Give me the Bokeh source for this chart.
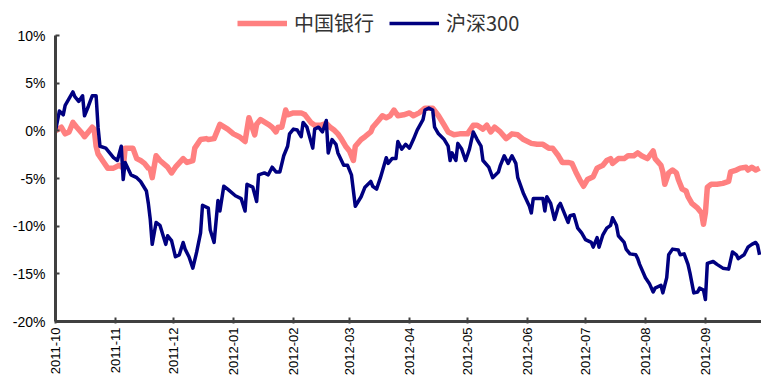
import numpy as np
import pandas as pd
from bokeh.plotting import figure
from bokeh.models import (Range1d, FixedTicker, PrintfTickFormatter, Legend, LegendItem,
                          ColumnDataSource)
from bokeh.embed import file_html
from bokeh.resources import INLINE

# ---------------- data ----------------
boc_dates = [
    "2011-10-01", "2011-10-04", "2011-10-06", "2011-10-08", "2011-10-10", "2011-10-12", "2011-10-15",
    "2011-10-16", "2011-10-18", "2011-10-20", "2011-10-21", "2011-10-22", "2011-10-23", "2011-10-26",
    "2011-10-28", "2011-10-31", "2011-11-03", "2011-11-05", "2011-11-06", "2011-11-09", "2011-11-10",
    "2011-11-12", "2011-11-14", "2011-11-16", "2011-11-18", "2011-11-19", "2011-11-20", "2011-11-22",
    "2011-11-24", "2011-11-28", "2011-11-30", "2011-12-02", "2011-12-06", "2011-12-08", "2011-12-11",
    "2011-12-12", "2011-12-15", "2011-12-18", "2011-12-19", "2011-12-22", "2011-12-24", "2011-12-25",
    "2011-12-29", "2012-01-01", "2012-01-04", "2012-01-07", "2012-01-09", "2012-01-11", "2012-01-12",
    "2012-01-13", "2012-01-15", "2012-01-19", "2012-01-21", "2012-01-23", "2012-01-24", "2012-01-26",
    "2012-01-28", "2012-01-29", "2012-02-01", "2012-02-05", "2012-02-07", "2012-02-10", "2012-02-12",
    "2012-02-15", "2012-02-18", "2012-02-20", "2012-02-22", "2012-02-24", "2012-02-26", "2012-02-28",
    "2012-03-01", "2012-03-03", "2012-03-04", "2012-03-07", "2012-03-09", "2012-03-12", "2012-03-13",
    "2012-03-16", "2012-03-18", "2012-03-20", "2012-03-22", "2012-03-24", "2012-03-26", "2012-03-29",
    "2012-04-01", "2012-04-03", "2012-04-06", "2012-04-09", "2012-04-13", "2012-04-16", "2012-04-19",
    "2012-04-21", "2012-04-24", "2012-04-27", "2012-05-01", "2012-05-04", "2012-05-06", "2012-05-09",
    "2012-05-11", "2012-05-13", "2012-05-15", "2012-05-18", "2012-05-21", "2012-05-24", "2012-05-27",
    "2012-05-30", "2012-06-03", "2012-06-06", "2012-06-09", "2012-06-12", "2012-06-14", "2012-06-17",
    "2012-06-19", "2012-06-22", "2012-06-24", "2012-06-26", "2012-06-28", "2012-06-30", "2012-07-02",
    "2012-07-05", "2012-07-07", "2012-07-10", "2012-07-12", "2012-07-14", "2012-07-15", "2012-07-18",
    "2012-07-21", "2012-07-23", "2012-07-26", "2012-07-28", "2012-07-30", "2012-08-02", "2012-08-05",
    "2012-08-06", "2012-08-09", "2012-08-10", "2012-08-11", "2012-08-13", "2012-08-15", "2012-08-17",
    "2012-08-18", "2012-08-20", "2012-08-22", "2012-08-23", "2012-08-25", "2012-08-28", "2012-08-30",
    "2012-08-31", "2012-09-01", "2012-09-02", "2012-09-04", "2012-09-07", "2012-09-10", "2012-09-13",
    "2012-09-14", "2012-09-17", "2012-09-19", "2012-09-22", "2012-09-23", "2012-09-25", "2012-09-27",
    "2012-09-29",
]
boc_values = [
    0.0, 0.4, -0.3, -0.1, 0.9, 0.4, -0.3,
    -0.6, -0.1, 0.4, 0.2, -1.6, -2.4, -3.3,
    -3.9, -3.9, -3.6, -3.9, -1.8, -1.8, -1.8,
    -2.9, -3.1, -3.4, -3.9, -4.0, -4.9, -2.6,
    -3.1, -3.8, -4.4, -3.8, -2.9, -3.3, -3.1,
    -1.8, -0.9, -0.8, -0.9, -0.8, 0.2, 0.7,
    0.2, -0.3, -0.6, -1.1, 1.4, 0.2, -0.4,
    0.7, 1.2, 0.7, 0.4, -0.1, 0.4, 0.4,
    2.2, 1.7, 1.9, 1.9, 1.7, 0.9, 0.6,
    0.6, 0.8, 0.4, 0.1, -0.3, -0.9, -1.6,
    -2.1, -3.1, -1.6, -0.9, -0.6, -0.1, 0.4,
    1.1, 1.6, 1.4, 1.6, 2.2, 1.6, 1.7,
    1.9, 1.6, 1.9, 2.4, 2.4, 1.6, 0.6,
    -0.1, -0.4, -0.3, -0.3, 0.6, 0.6, 0.2,
    0.6, -0.1, 0.4, -0.1, -0.8, -0.3, -0.4,
    -0.9, -1.3, -1.4, -1.4, -1.8, -1.8, -2.6,
    -3.3, -3.3, -3.4, -4.3, -5.1, -5.8, -5.1,
    -4.8, -3.9, -3.6, -3.1, -2.9, -3.4, -2.9,
    -2.9, -2.6, -2.6, -2.3, -2.6, -2.9, -2.1,
    -2.9, -3.6, -4.3, -5.6, -4.4, -4.1, -4.4,
    -5.1, -6.1, -6.3, -6.9, -7.6, -8.1, -8.6,
    -9.8, -8.6, -5.9, -5.6, -5.6, -5.5, -5.3,
    -4.3, -4.1, -3.9, -3.8, -4.1, -3.8, -4.1,
    -3.9,
]

hs300_dates = [
    "2011-10-01", "2011-10-03", "2011-10-05", "2011-10-06", "2011-10-10", "2011-10-11", "2011-10-13",
    "2011-10-15", "2011-10-16", "2011-10-18", "2011-10-20", "2011-10-22", "2011-10-23", "2011-10-24",
    "2011-10-27", "2011-10-29", "2011-10-31", "2011-11-02", "2011-11-04", "2011-11-05", "2011-11-06",
    "2011-11-09", "2011-11-12", "2011-11-14", "2011-11-17", "2011-11-18", "2011-11-19", "2011-11-20",
    "2011-11-22", "2011-11-24", "2011-11-27", "2011-11-28", "2011-11-30", "2011-12-02", "2011-12-04",
    "2011-12-06", "2011-12-07", "2011-12-09", "2011-12-11", "2011-12-13", "2011-12-15", "2011-12-16",
    "2011-12-19", "2011-12-20", "2011-12-22", "2011-12-24", "2011-12-25", "2011-12-27", "2011-12-29",
    "2012-01-02", "2012-01-05", "2012-01-07", "2012-01-08", "2012-01-11", "2012-01-13", "2012-01-14",
    "2012-01-17", "2012-01-19", "2012-01-21", "2012-01-23", "2012-01-25", "2012-01-27", "2012-01-29",
    "2012-01-30", "2012-02-01", "2012-02-03", "2012-02-05", "2012-02-06", "2012-02-08", "2012-02-11",
    "2012-02-12", "2012-02-14", "2012-02-16", "2012-02-18", "2012-02-19", "2012-02-21", "2012-02-23",
    "2012-02-24", "2012-02-27", "2012-02-29", "2012-03-02", "2012-03-04", "2012-03-07", "2012-03-09",
    "2012-03-12", "2012-03-13", "2012-03-15", "2012-03-17", "2012-03-20", "2012-03-21", "2012-03-23",
    "2012-03-25", "2012-03-26", "2012-03-28", "2012-03-30", "2012-04-01", "2012-04-03", "2012-04-05",
    "2012-04-08", "2012-04-09", "2012-04-11", "2012-04-13", "2012-04-14", "2012-04-16", "2012-04-19",
    "2012-04-21", "2012-04-22", "2012-04-23", "2012-04-25", "2012-04-26", "2012-04-28", "2012-04-30",
    "2012-05-02", "2012-05-04", "2012-05-06", "2012-05-08", "2012-05-09", "2012-05-12", "2012-05-14",
    "2012-05-17", "2012-05-18", "2012-05-20", "2012-05-22", "2012-05-24", "2012-05-26", "2012-05-27",
    "2012-05-30", "2012-06-02", "2012-06-03", "2012-06-04", "2012-06-07", "2012-06-09", "2012-06-10",
    "2012-06-11", "2012-06-13", "2012-06-15", "2012-06-17", "2012-06-18", "2012-06-20", "2012-06-22",
    "2012-06-23", "2012-06-25", "2012-06-27", "2012-06-29", "2012-07-01", "2012-07-04", "2012-07-05",
    "2012-07-07", "2012-07-08", "2012-07-10", "2012-07-12", "2012-07-14", "2012-07-15", "2012-07-17",
    "2012-07-18", "2012-07-21", "2012-07-22", "2012-07-24", "2012-07-27", "2012-07-28", "2012-07-29",
    "2012-08-01", "2012-08-03", "2012-08-05", "2012-08-06", "2012-08-09", "2012-08-10", "2012-08-12",
    "2012-08-13", "2012-08-15", "2012-08-18", "2012-08-19", "2012-08-21", "2012-08-23", "2012-08-24",
    "2012-08-26", "2012-08-28", "2012-08-29", "2012-08-31", "2012-09-01", "2012-09-02", "2012-09-05",
    "2012-09-07", "2012-09-10", "2012-09-13", "2012-09-15", "2012-09-17", "2012-09-18", "2012-09-21",
    "2012-09-23", "2012-09-25", "2012-09-27", "2012-09-28", "2012-09-29",
]
hs300_values = [
    0.0, 2.1, 1.7, 2.7, 4.1, 3.6, 3.1,
    3.7, 1.6, 2.6, 3.7, 3.7, 0.4, -1.6,
    -1.8, -2.3, -2.8, -3.1, -1.6, -5.1, -3.3,
    -4.6, -4.9, -5.3, -6.3, -7.6, -9.3, -11.9,
    -9.6, -9.9, -11.9, -11.0, -11.5, -13.2, -13.0,
    -11.7, -12.4, -13.2, -14.4, -12.7, -10.7, -7.8,
    -8.1, -10.4, -11.7, -7.3, -8.4, -5.8, -6.1,
    -6.8, -7.1, -8.4, -5.6, -5.9, -7.4, -4.6,
    -4.4, -4.6, -3.8, -4.3, -4.3, -2.6, -1.6,
    -0.3, 0.2, 0.1, -0.6, 0.9, 0.4, -1.8,
    0.2, 0.4, -0.1, 1.1, -2.3, -0.9, -1.4,
    -2.3, -3.6, -3.6, -4.6, -7.9, -6.9, -5.9,
    -5.3, -5.8, -6.1, -4.9, -2.8, -3.4, -2.9,
    -2.9, -1.1, -1.9, -1.4, -1.8, -0.9, 0.1,
    1.2, 2.2, 2.4, 2.2, 0.4, -0.3, -0.9,
    -1.6, -3.1, -2.3, -3.1, -1.3, -1.9, -3.1,
    -1.9, -0.1, -0.9, -1.6, -3.1, -3.8, -4.9,
    -4.3, -3.6, -2.6, -3.4, -2.6, -3.4, -4.9,
    -6.6, -7.9, -8.6, -7.1, -7.1, -7.1, -8.4,
    -6.9, -7.6, -9.3, -7.9, -7.6, -8.6, -9.6,
    -8.9, -8.8, -10.2, -10.7, -11.4, -11.7, -12.2,
    -11.2, -12.2, -10.9, -10.2, -9.9, -9.1, -9.9,
    -11.0, -11.7, -12.4, -12.9, -13.0, -13.4, -14.0,
    -15.4, -16.0, -16.9, -16.5, -16.2, -17.0, -15.4,
    -13.0, -12.4, -12.5, -13.0, -12.9, -14.0, -14.9,
    -17.0, -16.9, -16.5, -16.7, -17.7, -13.9, -13.7,
    -14.0, -14.4, -14.5, -12.7, -13.0, -13.4, -13.0,
    -12.2, -11.9, -11.7, -12.0, -13.0,
]

month_ticks = ["2011-10-01", "2011-11-01", "2011-12-01", "2012-01-01", "2012-02-01", "2012-03-01",
               "2012-04-01", "2012-05-01", "2012-06-01", "2012-07-01", "2012-08-01", "2012-09-01"]
month_labels = ["2011-10", "2011-11", "2011-12", "2012-01", "2012-02", "2012-03",
                "2012-04", "2012-05", "2012-06", "2012-07", "2012-08", "2012-09"]
y_ticks = [-20, -15, -10, -5, 0, 5, 10]
series_names = ["中国银行", "沪深300"]

# ---------------- figure ----------------
x_start = pd.Timestamp("2011-10-01")
x_end = pd.Timestamp("2012-09-30")
y_top_room = 13.7   # headroom above the 10% tick, where the legend sits

p = figure(width=761, height=378, x_axis_type="datetime",
           x_range=Range1d(x_start, x_end), y_range=Range1d(y_ticks[0], y_top_room),
           output_backend="svg", toolbar_location=None,
           min_border_left=55, min_border_right=0, min_border_top=0, min_border_bottom=40)
p.outline_line_color = None
p.xgrid.visible = False
p.ygrid.visible = False
p.background_fill_color = "white"
p.border_fill_color = "white"

axis_color = "#404040"

# y axis
p.yaxis.ticker = FixedTicker(ticks=y_ticks)
p.yaxis.bounds = (y_ticks[0], y_ticks[-1])
p.yaxis.formatter = PrintfTickFormatter(format="%d%%")
p.yaxis.axis_line_color = axis_color
p.yaxis.axis_line_width = 3
p.yaxis.major_tick_line_color = axis_color
p.yaxis.major_tick_line_width = 2
p.yaxis.major_tick_in = 4
p.yaxis.major_tick_out = 0
p.yaxis.minor_tick_line_color = None
p.yaxis.major_label_standoff = 10
p.yaxis.major_label_text_font = "Liberation Sans"
p.yaxis.major_label_text_font_size = "14px"
p.yaxis.major_label_text_color = "black"

# x axis
tick_ms = [pd.Timestamp(d).value // 10**6 for d in month_ticks]
p.xaxis.ticker = FixedTicker(ticks=tick_ms)
p.xaxis.major_label_overrides = {int(t): lab for t, lab in zip(tick_ms, month_labels)}
p.xaxis.major_label_orientation = np.pi / 2
p.xaxis.axis_line_color = axis_color
p.xaxis.axis_line_width = 3
p.xaxis.major_tick_line_color = axis_color
p.xaxis.major_tick_line_width = 2
p.xaxis.major_tick_in = 4
p.xaxis.major_tick_out = 2
p.xaxis.minor_tick_line_color = None
p.xaxis.major_label_standoff = 4
p.xaxis.major_label_text_font = "Liberation Sans"
p.xaxis.major_label_text_font_size = "13px"
p.xaxis.major_label_text_color = "black"

# lines
boc_src = ColumnDataSource(dict(x=pd.to_datetime(boc_dates), y=boc_values))
hs_src = ColumnDataSource(dict(x=pd.to_datetime(hs300_dates), y=hs300_values))
r_boc = p.line("x", "y", source=boc_src, line_color="#FF8080", line_width=5.5, line_join="round")
r_hs = p.line("x", "y", source=hs_src, line_color="#000080", line_width=3.5, line_join="round")

# legend (in the headroom at the top of the frame, centred on the page)
legend = Legend(items=[LegendItem(label=series_names[0], renderers=[r_boc]),
                       LegendItem(label=series_names[1], renderers=[r_hs])],
                orientation="horizontal", location=(182, 284),
                border_line_color=None, background_fill_alpha=0,
                padding=0, margin=0, spacing=15, glyph_width=50, glyph_height=20,
                label_standoff=7, label_text_font="Noto Sans CJK SC",
                label_text_font_size="20px", label_text_color="#333333")
p.add_layout(legend)

open("out.html", "w").write(file_html(p, INLINE))
